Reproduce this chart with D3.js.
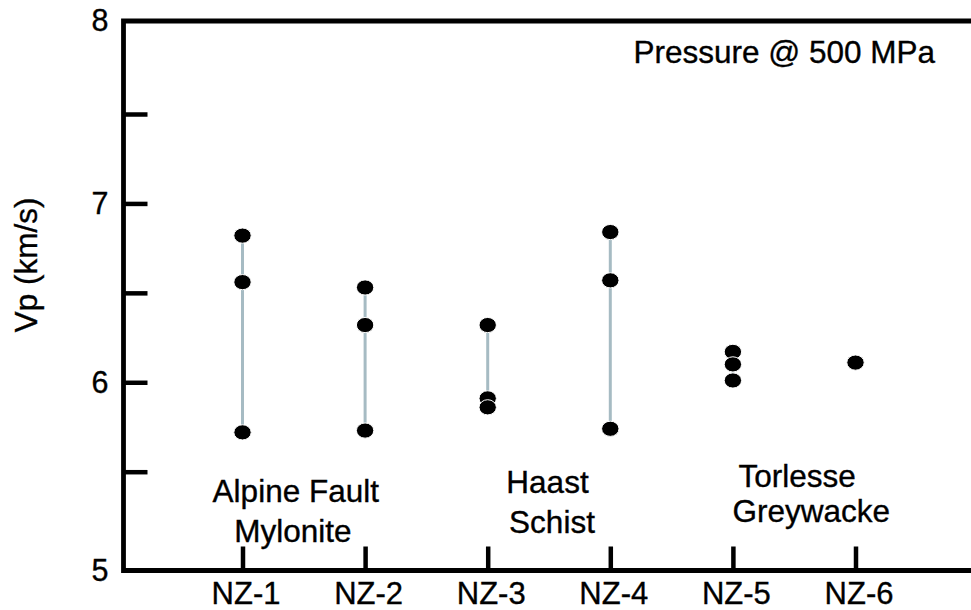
<!DOCTYPE html>
<html>
<head>
<meta charset="utf-8">
<script src="https://cdn.jsdelivr.net/npm/d3@7/dist/d3.min.js"></script>
<style>
  html, body { margin: 0; padding: 0; background: #fff; }
  svg { display: block; }
  text { font-family: "Liberation Sans", Arial, Helvetica, sans-serif; fill: #000; stroke: #000; stroke-width: 0.35px; }
</style>
</head>
<body>
<svg id="chart" width="971" height="610"></svg>
<script>
// Samples and their P-wave velocities (km/s) at 500 MPa confining pressure
const samples = ["NZ-1", "NZ-2", "NZ-3", "NZ-4", "NZ-5", "NZ-6"];
const vpNZ1 = [6.82, 6.56, 5.72];
const vpNZ2 = [6.53, 6.32, 5.73];
const vpNZ3 = [6.32, 5.91, 5.86];
const vpNZ4 = [6.84, 6.57, 5.74];
const vpNZ5 = [6.17, 6.10, 6.01];
const vpNZ6 = [6.11];
const vpValues = [vpNZ1, vpNZ2, vpNZ3, vpNZ4, vpNZ5, vpNZ6];

// Lithology groups spanning pairs of samples
const groupLines = [["Alpine Fault", "Mylonite"], ["Haast", "Schist"], ["Torlesse", "Greywacke"]];
const groupSamples = [["NZ-1", "NZ-2"], ["NZ-3", "NZ-4"], ["NZ-5", "NZ-6"]];

// Axis ticks
const yMinorTicks = [5.5, 6, 6.5, 7, 7.5];
const yTickLabels = [5, 6, 7, 8];

const yTitle = "Vp (km/s)";
const noteText = "Pressure @ 500 MPa";

// ---- layout ----
const W = 971, H = 610;
const frame = { left: 123.5, top: 21, bottom: 570.5, right: W };
const groupLayout = [
  { dx: [-8, -11], y: [502, 542] },
  { dx: [-1.5, 3], y: [493, 533] },
  { dx: [3, 17], y: [487, 522] }
];

const svg = d3.select("#chart");

const x = d3.scalePoint().domain(samples).range([242.5, 855.5]);
// the printed axis is not perfectly even near its ends, so the scale follows the drawn ticks
const y = d3.scaleLinear().domain([5, 5.5, 7.5, 8]).range([frame.bottom, 471.7, 114, frame.top]);

// range lines behind the points
const rows = samples.map((s, i) => ({ sample: s, values: vpValues[i] }));

svg.append("g").selectAll("line")
  .data(rows.filter(r => r.values.length > 1))
  .join("line")
  .attr("x1", d => x(d.sample)).attr("x2", d => x(d.sample))
  .attr("y1", d => y(d3.max(d.values))).attr("y2", d => y(d3.min(d.values)))
  .attr("stroke", "#a6bbc3").attr("stroke-width", 3);

const pts = rows.flatMap(r => r.values.map(v => ({ sample: r.sample, v })));
svg.append("g").selectAll("ellipse")
  .data(pts)
  .join("ellipse")
  .attr("cx", d => x(d.sample))
  .attr("cy", d => y(d.v))
  .attr("rx", 8.7).attr("ry", 7.6)
  .attr("fill", "#000").attr("stroke", "#fff").attr("stroke-width", 1);

// x axis ticks and sample labels
const xAxis = svg.append("g")
  .attr("transform", `translate(0,${frame.bottom})`)
  .call(d3.axisBottom(x).tickSize(-24).tickPadding(11.5));
xAxis.select(".domain").remove();
xAxis.selectAll(".tick line").attr("stroke", "#000").attr("stroke-width", 4.5);
xAxis.selectAll(".tick text")
  .attr("font-size", 31).attr("dx", 3)
  .style("font-family", '"Liberation Sans", Arial, sans-serif').attr("fill", "#000");

// y axis minor ticks pointing inward
const yTicks = svg.append("g")
  .attr("transform", `translate(${frame.left},0)`)
  .call(d3.axisLeft(y).tickValues(yMinorTicks).tickSize(-24).tickFormat(""));
yTicks.select(".domain").remove();
yTicks.selectAll(".tick line").attr("stroke", "#000").attr("stroke-width", 4.5);

// y axis labels
const yLabels = svg.append("g")
  .attr("transform", `translate(${frame.left},0)`)
  .call(d3.axisLeft(y).tickValues(yTickLabels).tickSize(0).tickPadding(15).tickFormat(d3.format("d")));
yLabels.select(".domain").remove();
yLabels.selectAll(".tick text")
  .attr("font-size", 30.5)
  .style("font-family", '"Liberation Sans", Arial, sans-serif').attr("fill", "#000");

// frame: left, top and bottom lines
const framePath = d3.path();
framePath.moveTo(frame.right, frame.top);
framePath.lineTo(frame.left, frame.top);
framePath.lineTo(frame.left, frame.bottom);
framePath.lineTo(frame.right, frame.bottom);
svg.append("path")
  .attr("d", framePath.toString())
  .attr("fill", "none").attr("stroke", "#000").attr("stroke-width", 4.8)
  .attr("stroke-linejoin", "miter").attr("stroke-linecap", "square");

// y axis title
svg.append("text")
  .attr("transform", `translate(37,265) rotate(-90)`)
  .attr("text-anchor", "middle")
  .attr("font-size", 31.5)
  .text(yTitle);

// pressure note
svg.append("text")
  .attr("x", 935).attr("y", 63)
  .attr("text-anchor", "end")
  .attr("font-size", 31.5)
  .text(noteText);

// group labels
groupLines.forEach((lines, gi) => {
  const [a, b] = groupSamples[gi];
  const mid = (x(a) + x(b)) / 2;
  const lay = groupLayout[gi];
  lines.forEach((t, li) => {
    svg.append("text")
      .attr("x", mid + lay.dx[li]).attr("y", lay.y[li])
      .attr("text-anchor", "middle")
      .attr("font-size", 31.5)
      .text(t);
  });
});
</script>
</body>
</html>
